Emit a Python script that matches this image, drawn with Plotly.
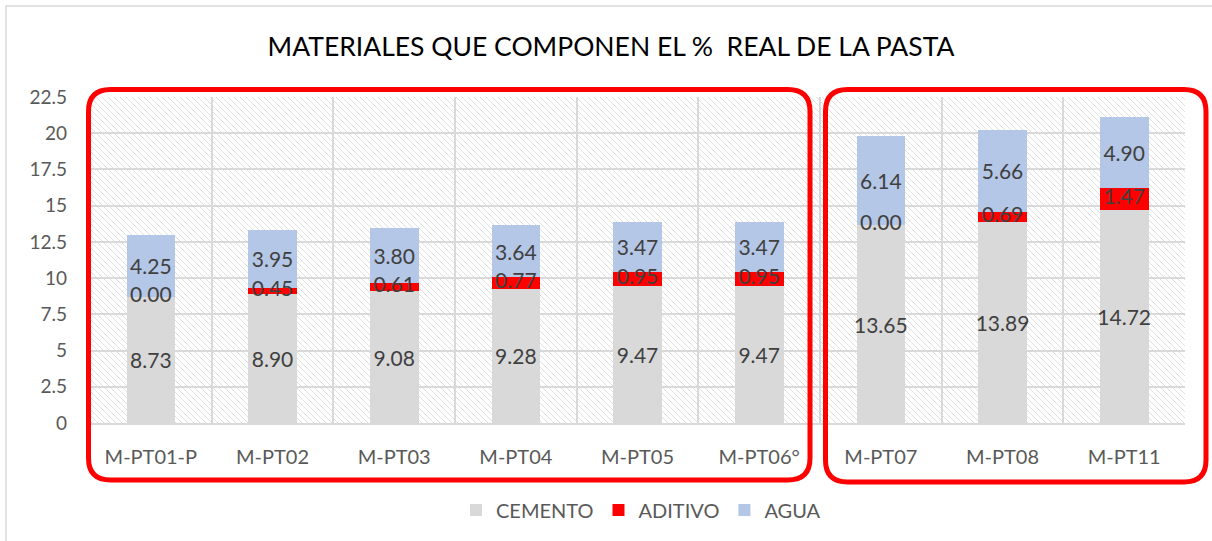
import base64
import plotly.graph_objects as go

categories = ["M-PT01-P", "M-PT02", "M-PT03", "M-PT04", "M-PT05", "M-PT06°",
              "M-PT07", "M-PT08", "M-PT11"]
cemento = [8.73, 8.90, 9.08, 9.28, 9.47, 9.47, 13.65, 13.89, 14.72]
aditivo = [0.00, 0.45, 0.61, 0.77, 0.95, 0.95, 0.00, 0.69, 1.47]
agua = [4.25, 3.95, 3.80, 3.64, 3.47, 3.47, 6.14, 5.66, 4.90]

W, H = 1212, 541
ML, MR, MT, MB = 90, 27, 97, 118
PW, PH = W - ML - MR, H - MT - MB

FONT = "Lato"
TXT = "#404040"
TICK = "#595959"
LBL = 21


def px(x):
    return (x - ML) / PW


def py(y):
    return 1 - (y - MT) / PH


def rounded_rect(x0, y0, x1, y1, r):
    pts = [
        f"M {px(x0 + r)},{py(y0)}",
        f"L {px(x1 - r)},{py(y0)}",
        f"Q {px(x1)},{py(y0)} {px(x1)},{py(y0 + r)}",
        f"L {px(x1)},{py(y1 - r)}",
        f"Q {px(x1)},{py(y1)} {px(x1 - r)},{py(y1)}",
        f"L {px(x0 + r)},{py(y1)}",
        f"Q {px(x0)},{py(y1)} {px(x0)},{py(y1 - r)}",
        f"L {px(x0)},{py(y0 + r)}",
        f"Q {px(x0)},{py(y0)} {px(x0 + r)},{py(y0)}",
        "Z",
    ]
    return " ".join(pts)


svg = f'''<svg xmlns="http://www.w3.org/2000/svg" width="{PW}" height="{PH}" shape-rendering="crispEdges">
<defs><pattern id="h" width="6" height="6" patternUnits="userSpaceOnUse">
<path d="M0,0 L6,6 M-1,5 L1,7 M5,-1 L7,1" stroke="#e0e0e0" stroke-width="1"/>
</pattern></defs>
<rect width="{PW}" height="{PH}" fill="white"/>
<rect width="{PW}" height="{PH}" fill="url(#h)"/>
</svg>'''
svg_uri = "data:image/svg+xml;base64," + base64.b64encode(svg.encode()).decode()

fig = go.Figure()

series = [("CEMENTO", cemento, "#d9d9d9"),
          ("ADITIVO", aditivo, "#ff0000"),
          ("AGUA", agua, "#b4c7e7")]
for name, vals, col in series:
    show_text = name != "ADITIVO"
    fig.add_trace(go.Bar(
        name=name, x=categories, y=vals, marker=dict(color=col, line=dict(width=0)),
        text=[f"{v:.2f}" for v in vals] if show_text else None,
        textposition="inside" if show_text else "none",
        insidetextanchor="middle", constraintext="none",
        textfont=dict(family=FONT, size=LBL, color=TXT),
        textangle=0, cliponaxis=False,
    ))

# ADITIVO labels drawn on top of all bars, centred on the ADITIVO segment
fig.add_trace(go.Scatter(
    x=categories, y=[c + a / 2 for c, a in zip(cemento, aditivo)],
    mode="text", text=[f"{v:.2f}" for v in aditivo],
    textposition="middle center", textfont=dict(family=FONT, size=LBL, color=TXT),
    showlegend=False, hoverinfo="skip", cliponaxis=False,
))

fig.update_layout(
    width=W, height=H,
    barmode="stack", bargap=0.6,
    margin=dict(l=ML, r=MR, t=MT, b=MB, autoexpand=False),
    paper_bgcolor="white", plot_bgcolor="rgba(0,0,0,0)",
    uniformtext=dict(mode="show", minsize=LBL),
    title=dict(text="MATERIALES QUE COMPONEN EL %  REAL DE LA PASTA",
               x=611 / W, xref="container", xanchor="center", y=1 - 47 / H, yanchor="middle",
               font=dict(family=FONT, size=26.5, color="#000000")),
    font=dict(family=FONT, color=TICK),
    legend=dict(orientation="h", x=px(641), xanchor="center", y=py(510), yanchor="middle",
                font=dict(family=FONT, size=20, color=TICK), traceorder="normal",
                itemwidth=30, bgcolor="rgba(0,0,0,0)"),
    xaxis=dict(type="category", tickson="boundaries", showgrid=True, gridcolor="#d9d9d9",
               gridwidth=2, ticks="", showline=True, linecolor="#d9d9d9", linewidth=2,
               tickfont=dict(family=FONT, size=20, color=TICK), ticklabelstandoff=15),
    yaxis=dict(range=[0, 22.5], dtick=2.5, tick0=0, showgrid=True, gridcolor="#d9d9d9",
               gridwidth=2, zeroline=False, showline=False, ticks="",
               tickfont=dict(family=FONT, size=19, color=TICK), ticklabelstandoff=22),
    images=[dict(source=svg_uri, xref="paper", yref="paper", x=0, y=1, sizex=1, sizey=1,
                 xanchor="left", yanchor="top", sizing="stretch", layer="below")],
    shapes=[
        dict(type="rect", xref="paper", yref="paper", x0=px(6), y0=py(6), x1=px(W + 5),
             y1=py(H + 5), line=dict(color="#d9d9d9", width=1.5), layer="below"),
        dict(type="path", xref="paper", yref="paper", path=rounded_rect(88.5, 89.5, 810, 480, 22),
             line=dict(color="#ff0000", width=5)),
        dict(type="path", xref="paper", yref="paper", path=rounded_rect(825.5, 89.5, 1206, 482, 22),
             line=dict(color="#ff0000", width=5)),
    ],
)

fig.write_html("out.html", post_script="document.body.style.margin='0';",
               config={"displayModeBar": False})
